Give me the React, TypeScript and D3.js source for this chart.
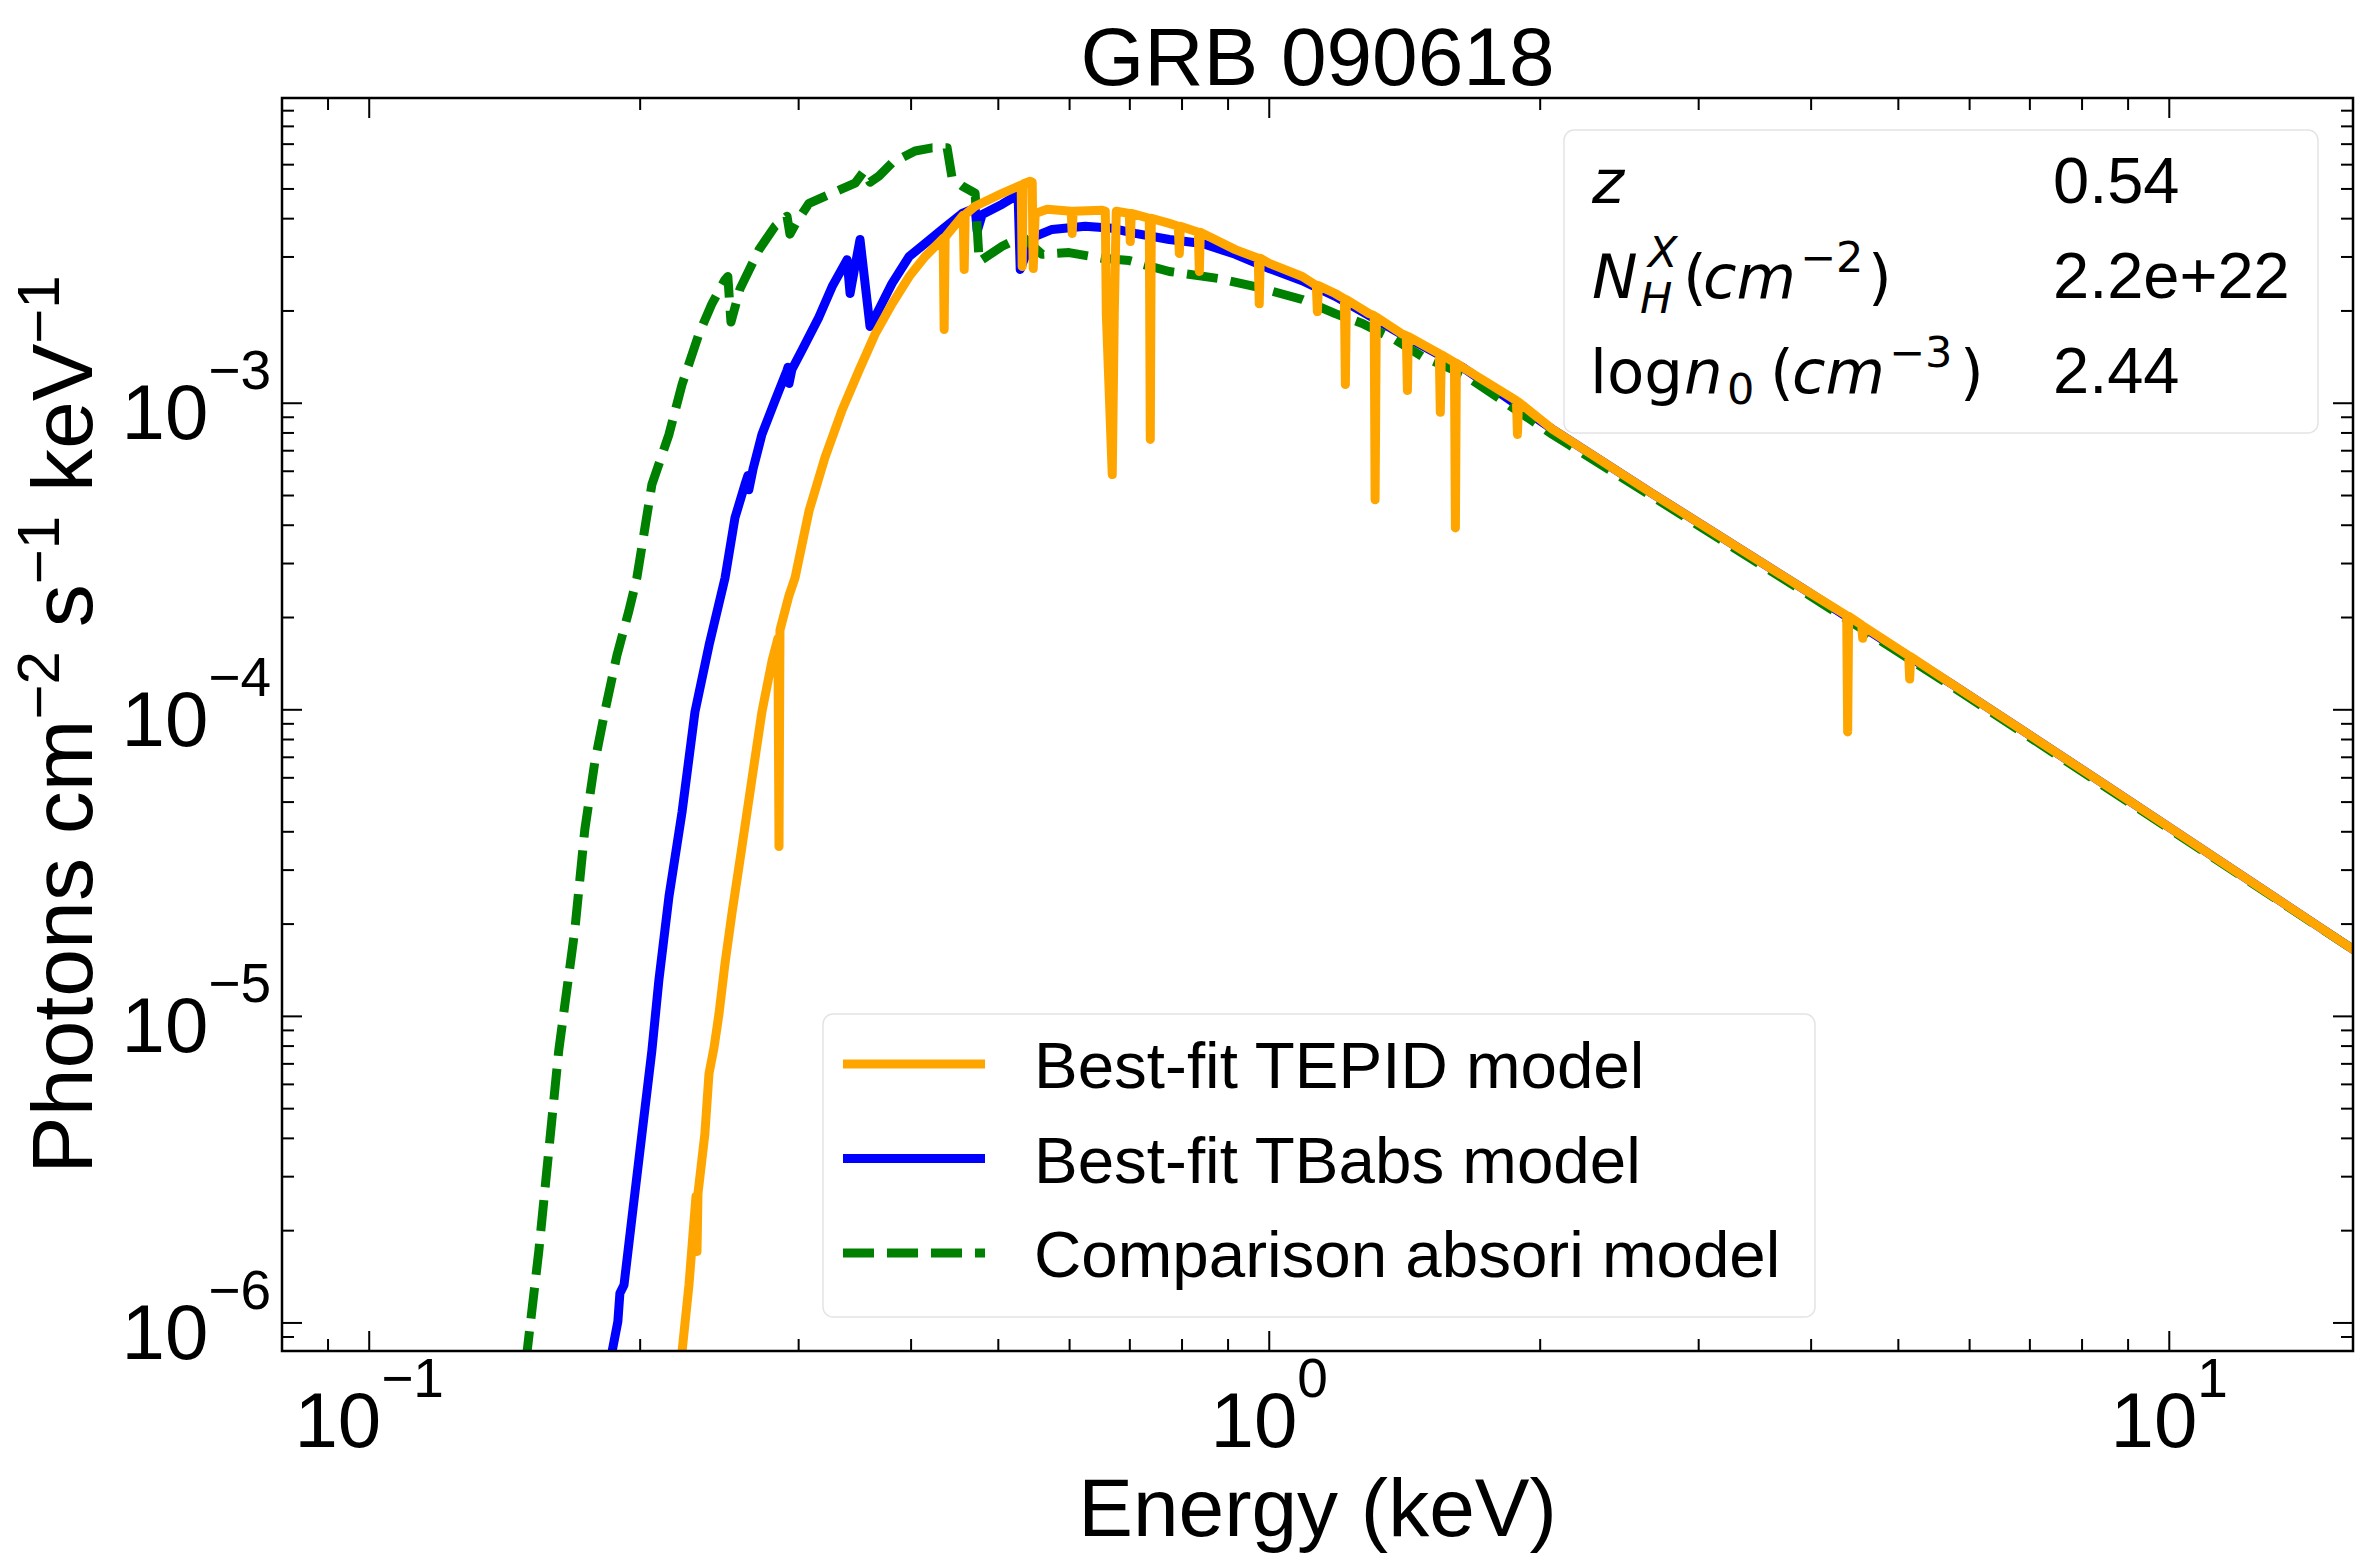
import React from 'react';
import * as d3 from 'd3';

const W = 2376;
const H = 1556;
const M = { left: 282, right: 2353, top: 98, bottom: 1351 };

const xDomain: [number, number] = [0.08, 16];
const yDomain: [number, number] = [8.1e-7, 9.9e-3];
const xMajorTicks = [0.1, 1, 10];
const yMajorTicks = [1e-6, 1e-5, 1e-4, 1e-3];

const titleText = 'GRB 090618';
const xLabelText = 'Energy (keV)';
const seriesNames = ['Best-fit TEPID model', 'Best-fit TBabs model', 'Comparison absori model'];
const seriesColors = ['#ffa500', '#0000ff', '#008000'];
const paramValues = ['0.54', '2.2e+22', '2.44'];

// Energy (keV), photon flux (photons cm^-2 s^-1 keV^-1)
const tepidModel: [number, number][] = [
  [0.2214, 7.18e-7], [0.2226, 8.04e-7], [0.2266, 1.33e-6], [0.2307, 2.59e-6], [0.2313, 1.71e-6],
  [0.2319, 2.65e-6], [0.236, 4.13e-6], [0.2385, 6.5e-6], [0.2416, 7.91e-6], [0.2447, 1.02e-5],
  [0.2485, 1.49e-5], [0.253, 2.18e-5], [0.2595, 3.58e-5], [0.2662, 5.94e-5], [0.2731, 9.85e-5],
  [0.2802, 1.44e-4], [0.2845, 1.71e-4], [0.2853, 3.58e-5], [0.286, 1.82e-4], [0.2927, 2.36e-4],
  [0.2972, 2.69e-4], [0.3081, 4.46e-4], [0.3209, 6.65e-4], [0.3352, 9.49e-4], [0.3501, 1.28e-3],
  [0.3648, 1.68e-3], [0.381, 2.11e-3], [0.398, 2.59e-3], [0.4146, 3.01e-3], [0.4342, 3.45e-3],
  [0.4353, 1.74e-3], [0.4364, 3.48e-3], [0.4558, 4.07e-3], [0.457, 4.1e-3], [0.4582, 2.73e-3],
  [0.4594, 4.13e-3], [0.4712, 4.39e-3], [0.505, 4.84e-3], [0.5301, 5.15e-3], [0.5315, 2.79e-3],
  [0.5328, 5.19e-3], [0.5425, 5.3e-3], [0.5453, 5.26e-3], [0.5467, 2.75e-3], [0.5494, 4.16e-3],
  [0.5666, 4.29e-3], [0.6024, 4.23e-3], [0.604, 3.58e-3], [0.6055, 4.23e-3], [0.6524, 4.26e-3],
  [0.6574, 4.23e-3], [0.6591, 1.96e-3], [0.6692, 5.85e-4], [0.6727, 1.96e-3], [0.6761, 4.23e-3],
  [0.699, 4.16e-3], [0.7008, 3.37e-3], [0.7026, 4.16e-3], [0.7226, 4.07e-3], [0.7357, 4.01e-3],
  [0.7376, 7.62e-4], [0.7395, 4.01e-3], [0.7744, 3.86e-3], [0.7924, 3.78e-3], [0.7945, 3.08e-3],
  [0.7965, 3.78e-3], [0.834, 3.61e-3], [0.8362, 2.69e-3], [0.8383, 3.61e-3], [0.9168, 3.17e-3],
  [0.9722, 2.97e-3], [0.9747, 2.11e-3], [0.9772, 2.97e-3], [1.0, 2.86e-3], [1.088, 2.59e-3],
  [1.128, 2.42e-3], [1.131, 1.99e-3], [1.134, 2.42e-3], [1.184, 2.28e-3], [1.212, 2.19e-3],
  [1.215, 1.15e-3], [1.218, 2.18e-3], [1.291, 1.96e-3], [1.308, 1.93e-3], [1.311, 4.84e-4],
  [1.315, 1.91e-3], [1.406, 1.68e-3], [1.42, 1.66e-3], [1.424, 1.1e-3], [1.427, 1.65e-3],
  [1.545, 1.45e-3], [1.549, 9.34e-4], [1.553, 1.44e-3], [1.606, 1.36e-3], [1.61, 3.92e-4],
  [1.614, 1.35e-3], [1.639, 1.31e-3], [1.882, 1.02e-3], [1.887, 7.91e-4], [1.892, 1.01e-3],
  [2.064, 8.22e-4], [2.666, 5.07e-4], [3.914, 2.49e-4], [4.381, 2.03e-4], [4.392, 8.47e-5],
  [4.403, 2.02e-4], [4.552, 1.89e-4], [4.564, 1.71e-4], [4.576, 1.87e-4], [5.134, 1.5e-4],
  [5.147, 1.26e-4], [5.16, 1.49e-4], [5.744, 1.21e-4], [8.436, 5.76e-5], [16.12, 1.63e-5],
];

const tbabsModel: [number, number][] = [
  [0.1851, 7.18e-7], [0.1861, 8.04e-7], [0.1889, 1.01e-6], [0.1899, 1.25e-6], [0.1919, 1.33e-6],
  [0.1958, 2.19e-6], [0.2009, 4.13e-6], [0.2061, 7.74e-6], [0.2098, 1.31e-5], [0.2153, 2.46e-5],
  [0.2226, 4.63e-5], [0.2301, 9.85e-5], [0.2385, 1.62e-4], [0.2485, 2.69e-4], [0.2549, 4.23e-4],
  [0.2615, 5.43e-4], [0.2635, 5.81e-4], [0.2641, 5.22e-4], [0.2669, 6.08e-4], [0.2731, 7.91e-4],
  [0.2824, 1.02e-3], [0.2912, 1.28e-3], [0.2919, 1.31e-3], [0.2927, 1.16e-3], [0.2949, 1.29e-3],
  [0.3026, 1.49e-3], [0.316, 1.91e-3], [0.3268, 2.4e-3], [0.3396, 2.94e-3], [0.3422, 2.28e-3],
  [0.3457, 2.69e-3], [0.351, 3.42e-3], [0.3601, 1.78e-3], [0.3648, 1.91e-3], [0.381, 2.46e-3],
  [0.398, 3.01e-3], [0.4146, 3.32e-3], [0.4331, 3.69e-3], [0.4558, 4.16e-3], [0.4712, 4.33e-3],
  [0.4737, 3.64e-3], [0.4798, 4.13e-3], [0.505, 4.46e-3], [0.522, 4.73e-3], [0.526, 4.73e-3],
  [0.5288, 2.73e-3], [0.5383, 3.13e-3], [0.5494, 3.5e-3], [0.5737, 3.69e-3], [0.6243, 3.78e-3],
  [0.6692, 3.72e-3], [0.7098, 3.58e-3], [0.7744, 3.42e-3], [0.8426, 3.32e-3], [0.9168, 3.06e-3],
  [1.0, 2.75e-3], [1.088, 2.51e-3], [1.184, 2.23e-3], [1.291, 1.93e-3], [1.406, 1.67e-3],
  [1.639, 1.31e-3], [2.064, 8.22e-4], [2.666, 5.07e-4], [3.914, 2.49e-4], [5.744, 1.21e-4],
  [8.436, 5.76e-5], [16.12, 1.63e-5],
];

const absoriModel: [number, number][] = [
  [0.1493, 7.45e-7], [0.1543, 1.71e-6], [0.1583, 3.64e-6], [0.1624, 7.74e-6], [0.1692, 1.91e-5],
  [0.1736, 4.07e-5], [0.1781, 6.76e-5], [0.1827, 9.85e-5], [0.1884, 1.5e-4], [0.1943, 2.1e-4],
  [0.1983, 2.69e-4], [0.2061, 5.43e-4], [0.2153, 7.91e-4], [0.2226, 1.15e-3], [0.2324, 1.68e-3],
  [0.2403, 2.11e-3], [0.2485, 2.53e-3], [0.2503, 2.59e-3], [0.2523, 1.84e-3], [0.2582, 2.36e-3],
  [0.2711, 3.17e-3], [0.2824, 3.78e-3], [0.2912, 4.07e-3], [0.2934, 3.56e-3], [0.2987, 3.92e-3],
  [0.3081, 4.49e-3], [0.3268, 4.84e-3], [0.3466, 5.22e-3], [0.3547, 5.72e-3], [0.3601, 5.26e-3],
  [0.3685, 5.51e-3], [0.381, 6.08e-3], [0.4041, 6.65e-3], [0.4221, 6.81e-3], [0.4386, 6.81e-3],
  [0.4442, 5.43e-3], [0.4558, 5.11e-3], [0.4712, 4.84e-3], [0.4761, 2.9e-3], [0.505, 3.25e-3],
  [0.5315, 3.5e-3], [0.5592, 3.06e-3], [0.5993, 3.1e-3], [0.6524, 2.97e-3], [0.699, 2.92e-3],
  [0.7744, 2.69e-3], [0.8798, 2.55e-3], [0.9648, 2.4e-3], [1.088, 2.18e-3], [1.184, 1.96e-3],
  [1.269, 1.82e-3], [1.381, 1.61e-3], [1.479, 1.42e-3], [1.639, 1.25e-3], [2.064, 7.91e-4],
  [2.666, 4.96e-4], [3.914, 2.44e-4], [5.744, 1.19e-4], [8.436, 5.68e-5], [16.12, 1.63e-5],
];

const SANS = "'Liberation Sans', Arial, sans-serif";
const MATH = "'DejaVu Sans', sans-serif";

function minorTicks(dom: [number, number]) {
  const out: number[] = [];
  const k0 = Math.floor(Math.log10(dom[0]));
  const k1 = Math.ceil(Math.log10(dom[1]));
  for (let k = k0; k <= k1; k++) {
    for (let m = 2; m <= 9; m++) {
      const v = m * Math.pow(10, k);
      if (v >= dom[0] && v <= dom[1]) out.push(v);
    }
  }
  return out;
}

function expStr(v: number) {
  const e = Math.round(Math.log10(v));
  return e < 0 ? '\u2212' + Math.abs(e) : String(e);
}

export default function App() {
  const x = d3.scaleLog().domain(xDomain).range([M.left, M.right]);
  const y = d3.scaleLog().domain(yDomain).range([M.bottom, M.top]);
  const line = d3
    .line<[number, number]>()
    .x((d) => x(d[0]))
    .y((d) => y(d[1]));

  const xMinor = minorTicks(xDomain);
  const yMinor = minorTicks(yDomain);
  const majorLen = 20;
  const minorLen = 12;
  const tickW = 2;
  const tickFont = 78;
  const supFont = 55;
  const lw = 9;

  const legendRows = [
    { name: seriesNames[0], color: seriesColors[0], dash: undefined },
    { name: seriesNames[1], color: seriesColors[1], dash: undefined },
    { name: seriesNames[2], color: seriesColors[2], dash: '31 13' },
  ];

  return (
    <svg
      width={W}
      height={H}
      viewBox={`0 0 ${W} ${H}`}
      style={{ position: 'absolute', left: 0, top: 0, display: 'block', background: '#fff' }}
    >
      <defs>
        <clipPath id="plotClip">
          <rect x={M.left} y={M.top} width={M.right - M.left} height={M.bottom - M.top} />
        </clipPath>
      </defs>
      <rect x={0} y={0} width={W} height={H} fill="#fff" />

      {/* curves */}
      <g clipPath="url(#plotClip)" fill="none" strokeLinejoin="round">
        <path d={line(tbabsModel) || ''} stroke={seriesColors[1]} strokeWidth={lw} strokeLinecap="round" />
        <path d={line(absoriModel) || ''} stroke={seriesColors[2]} strokeWidth={lw} strokeDasharray="31 13" />
        <path d={line(tepidModel) || ''} stroke={seriesColors[0]} strokeWidth={lw} strokeLinecap="round" />
      </g>

      {/* ticks */}
      <g stroke="#000" strokeWidth={tickW}>
        {xMajorTicks.map((v) => (
          <g key={'xM' + v}>
            <line x1={x(v)} x2={x(v)} y1={M.bottom} y2={M.bottom - majorLen} />
            <line x1={x(v)} x2={x(v)} y1={M.top} y2={M.top + majorLen} />
          </g>
        ))}
        {xMinor.map((v) => (
          <g key={'xm' + v}>
            <line x1={x(v)} x2={x(v)} y1={M.bottom} y2={M.bottom - minorLen} />
            <line x1={x(v)} x2={x(v)} y1={M.top} y2={M.top + minorLen} />
          </g>
        ))}
        {yMajorTicks.map((v) => (
          <g key={'yM' + v}>
            <line x1={M.left} x2={M.left + majorLen} y1={y(v)} y2={y(v)} />
            <line x1={M.right} x2={M.right - majorLen} y1={y(v)} y2={y(v)} />
          </g>
        ))}
        {yMinor.map((v) => (
          <g key={'ym' + v}>
            <line x1={M.left} x2={M.left + minorLen} y1={y(v)} y2={y(v)} />
            <line x1={M.right} x2={M.right - minorLen} y1={y(v)} y2={y(v)} />
          </g>
        ))}
      </g>

      {/* frame */}
      <rect
        x={M.left}
        y={M.top}
        width={M.right - M.left}
        height={M.bottom - M.top}
        fill="none"
        stroke="#000"
        strokeWidth={2.5}
      />

      {/* tick labels */}
      <g fontFamily={SANS} fill="#000">
        {xMajorTicks.map((v) => (
          <text key={'xl' + v} x={x(v)} y={1447} textAnchor="middle" fontSize={tickFont}>
            <tspan>10</tspan>
            <tspan fontSize={supFont} dy={-50}>{expStr(v)}</tspan>
          </text>
        ))}
        {yMajorTicks.map((v) => (
          <text key={'yl' + v} x={271} y={y(v) + 36} textAnchor="end" fontSize={tickFont}>
            <tspan>10</tspan>
            <tspan fontSize={supFont} dy={-50}>{expStr(v)}</tspan>
          </text>
        ))}
      </g>

      {/* title & axis labels */}
      <text x={(M.left + M.right) / 2} y={85} textAnchor="middle" fontFamily={SANS} fontSize={82}>
        {titleText}
      </text>
      <text x={(M.left + M.right) / 2} y={1536} textAnchor="middle" fontFamily={SANS} fontSize={82}>
        {xLabelText}
      </text>
      <text
        transform={`translate(92, ${(M.top + M.bottom) / 2}) rotate(-90)`}
        textAnchor="middle"
        fontFamily={SANS}
        fontSize={86}
      >
        <tspan>Photons cm</tspan>
        <tspan fontSize={60} dy={-33}>{'\u22122'}</tspan>
        <tspan dy={33}>{'\u00a0s'}</tspan>
        <tspan fontSize={60} dy={-33}>{'\u22121'}</tspan>
        <tspan dy={33}>{'\u00a0keV'}</tspan>
        <tspan fontSize={60} dy={-33}>{'\u22121'}</tspan>
      </text>

      {/* parameter box */}
      <rect x={1564} y={130} width={754} height={303} rx={10} fill="#fff" fillOpacity={0.8} stroke="#e4e4e4" strokeWidth={1.5} />
      <g fill="#000">
        <text x={1592} y={203} fontFamily={MATH} fontStyle="italic" fontSize={61}>z</text>
        <text x={2053} y={203} fontFamily={SANS} fontSize={65}>{paramValues[0]}</text>

        <text x={1592} y={298} fontFamily={MATH} fontStyle="italic" fontSize={61}>N</text>
        <text x={1648} y={267} fontFamily={MATH} fontStyle="italic" fontSize={43}>X</text>
        <text x={1640} y={313} fontFamily={MATH} fontStyle="italic" fontSize={43}>H</text>
        <text x={1683} y={298} fontFamily={MATH} fontSize={61}>(</text>
        <text x={1703} y={298} fontFamily={MATH} fontStyle="italic" fontSize={61}>cm</text>
        <text x={1800} y={272} fontFamily={MATH} fontSize={43}>{'\u22122'}</text>
        <text x={1868} y={298} fontFamily={MATH} fontSize={61}>)</text>
        <text x={2053} y={298} fontFamily={SANS} fontSize={65}>{paramValues[1]}</text>

        <text x={1590} y={393} fontFamily={MATH} fontSize={61}>log</text>
        <text x={1684} y={393} fontFamily={MATH} fontStyle="italic" fontSize={61}>n</text>
        <text x={1727} y={404} fontFamily={MATH} fontSize={43}>0</text>
        <text x={1770} y={393} fontFamily={MATH} fontSize={61}>(</text>
        <text x={1792} y={393} fontFamily={MATH} fontStyle="italic" fontSize={61}>cm</text>
        <text x={1889} y={367} fontFamily={MATH} fontSize={43}>{'\u22123'}</text>
        <text x={1960} y={393} fontFamily={MATH} fontSize={61}>)</text>
        <text x={2053} y={393} fontFamily={SANS} fontSize={65}>{paramValues[2]}</text>
      </g>

      {/* legend */}
      <rect x={823} y={1014} width={992} height={303} rx={10} fill="#fff" fillOpacity={0.8} stroke="#e4e4e4" strokeWidth={1.5} />
      {legendRows.map((r, i) => {
        const ly = 1064 + i * 94.5;
        return (
          <g key={r.name}>
            <line
              x1={843}
              x2={985}
              y1={ly}
              y2={ly}
              stroke={r.color}
              strokeWidth={lw}
              strokeDasharray={r.dash}
            />
            <text x={1034} y={ly + 24} fontFamily={SANS} fontSize={65.5} fill="#000">
              {r.name}
            </text>
          </g>
        );
      })}
    </svg>
  );
}
